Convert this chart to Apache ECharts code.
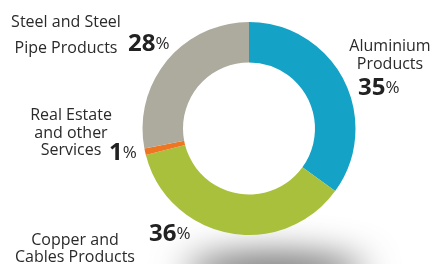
<!DOCTYPE html>
<html>
<head>
<meta charset="utf-8">
<script src="https://cdn.jsdelivr.net/npm/echarts@6/dist/echarts.min.js"></script>
<style>
  html, body { margin: 0; padding: 0; background: #fff; }
  #main { width: 433px; height: 264px; }
</style>
</head>
<body>
<div id="main"></div>
<script>
  // segment data, clockwise from 12 o'clock
  const names = ['Aluminium\nProducts', 'Copper and\nCables Products', 'Real Estate\nand other\nServices', 'Steel and Steel\nPipe Products'];
  const values = [35, 36, 1, 28];
  const colors = ['#14a3c6', '#a8c03b', '#ee7623', '#adab9d'];

  // where each label sits (name block centre x, first baseline, line gap, percent left/baseline)
  const labelPos = [
    { x: 390, y: 52.5, gap: 17.5, px: 358, py: 100 },
    { x: 75, y: 246, gap: 16.7, px: 149, py: 246 },
    { x: 71, y: 121, gap: 17.7, px: 109, py: 165.5 },
    { x: 66, y: 28, gap: 26.5, px: 128, py: 56.5 }
  ];

  const myChart = echarts.init(document.getElementById('main'));

  const nameFont = 16;
  const numFont = 24;
  const textEls = [];
  names.forEach(function (n, i) {
    const p = labelPos[i];
    n.split('\n').forEach(function (line, k) {
      textEls.push({
        type: 'text',
        z: 10,
        style: {
          text: line,
          x: p.x,
          y: p.y + k * p.gap - nameFont * 0.36,
          align: 'center',
          verticalAlign: 'middle',
          font: nameFont + 'px "Open Sans"',
          fill: '#2a2a2a'
        }
      });
    });
    textEls.push({
      type: 'text',
      z: 10,
      style: {
        text: '{n|' + values[i] + '}{p|%}',
        x: p.px,
        y: p.py,
        align: 'left',
        verticalAlign: 'bottom',
        rich: {
          n: { fontFamily: 'Open Sans', fontWeight: 'bold', fontSize: numFont, fill: '#222' },
          p: { fontFamily: 'Open Sans', fontSize: 17, fill: '#2a2a2a' }
        }
      }
    });
  });

  // soft grey shadow under the ring: shape kept off screen, only its blur shows
  const shadow = {
    type: 'ellipse',
    z: -1,
    shape: { cx: 275, cy: 272 + 600, rx: 90, ry: 16 },
    style: {
      fill: '#777',
      shadowColor: 'rgba(85,85,85,1)',
      shadowBlur: 36,
      shadowOffsetY: -600
    }
  };

  const option = {
    backgroundColor: '#fff',
    animation: false,
    graphic: [shadow].concat(textEls),
    series: [
      {
        type: 'pie',
        center: [249, 128.5],
        radius: [66, 106.5],
        startAngle: 90,
        clockwise: true,
        silent: true,
        label: { show: false },
        labelLine: { show: false },
        data: values.map(function (v, i) {
          return { name: names[i], value: v, itemStyle: { color: colors[i] } };
        })
      }
    ]
  };

  myChart.setOption(option);
</script>
</body>
</html>
